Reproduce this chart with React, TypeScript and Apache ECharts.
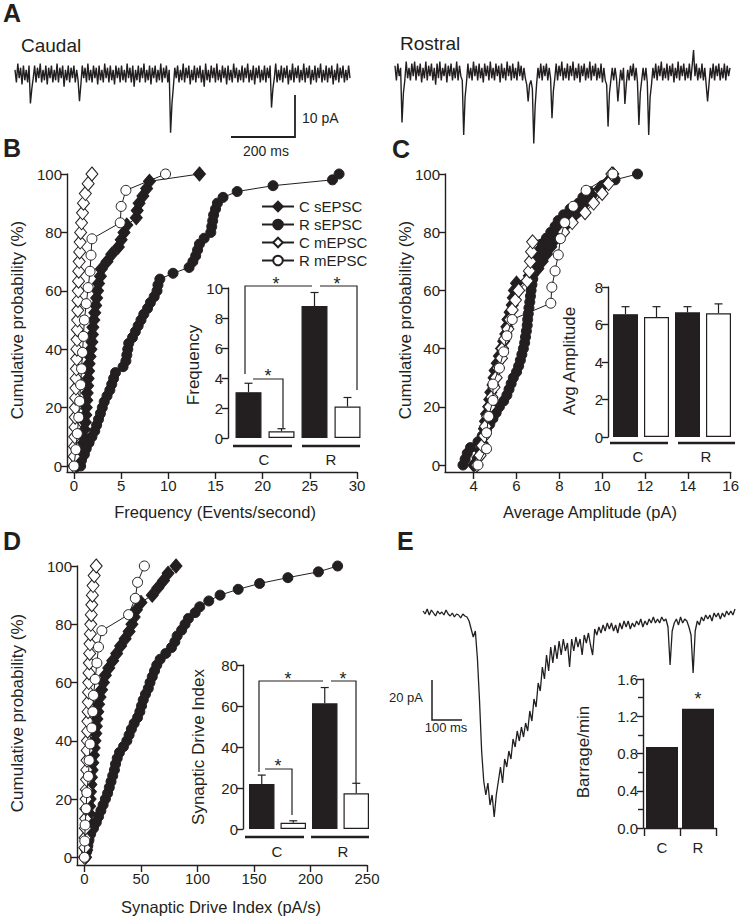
import React, { useEffect, useRef } from 'react';
import * as echarts from 'echarts';

const FONT = '"Liberation Sans", Arial, Helvetica, sans-serif';
const INK = '#231f20';

// ---- cumulative probability levels (%) per group of cells ----
const cumCs = [0, 2.5, 5, 7.5, 10, 12.5, 15, 17.5, 20, 22.5, 25, 27.5, 30, 32.5, 35, 37.5, 40, 42.5, 45, 47.5, 50, 52.5, 55, 57.5, 60, 62.5, 65, 67.5, 70, 72.5, 75, 77.5, 80, 82.5, 85, 87.5, 90, 92.5, 95, 97.5, 100];
const cumRs = [0, 2, 4, 6, 8, 10, 12, 14, 16, 18, 20, 22, 24, 26, 28, 30, 32, 34, 36, 38, 40, 42, 44, 46, 48, 50, 52, 54, 56, 58, 60, 62, 64, 66, 68, 70, 72, 74, 76, 78, 80, 82, 84, 86, 88, 90, 92, 94, 96, 98, 100];
const cumCm = [0, 3.3, 6.7, 10, 13.3, 16.7, 20, 23.3, 26.7, 30, 33.3, 36.7, 40, 43.3, 46.7, 50, 53.3, 56.7, 60, 63.3, 66.7, 70, 73.3, 76.7, 80, 83.3, 86.7, 90, 93.3, 96.7, 100];
const cumRm = [0, 5.6, 11.1, 16.7, 22.2, 27.8, 33.3, 38.9, 44.4, 50, 55.6, 61.1, 66.7, 72.2, 77.8, 83.3, 88.9, 94.4, 100];

// ---- B: frequency (events/s) ----
const freqCs = [0.3, 0.6, 0.8, 0.9, 1.0, 1.1, 1.2, 1.25, 1.3, 1.35, 1.4, 1.45, 1.5, 1.55, 1.6, 1.7, 1.8, 1.9, 1.95, 2.0, 2.1, 2.2, 2.3, 2.4, 2.5, 2.6, 2.8, 2.9, 3.5, 4.0, 4.7, 5.0, 5.3, 5.6, 6.6, 6.7, 6.9, 7.3, 7.7, 8.0, 13.3];
const freqRs = [0.7, 0.8, 1.1, 1.3, 1.6, 1.9, 2.2, 2.4, 2.6, 2.8, 3.0, 3.2, 3.5, 3.8, 4.0, 4.2, 4.4, 5.2, 5.5, 5.6, 5.7, 5.8, 6.2, 6.5, 6.8, 7.1, 7.4, 7.8, 8.1, 8.5, 8.8, 8.9, 9.1, 10.5, 12.2, 12.6, 12.9, 13.1, 13.3, 13.8, 14.5, 14.6, 14.7, 14.8, 15.0, 15.2, 15.8, 17.3, 21.1, 27.4, 28.1];
const freqCm = [0, 0.02, 0.05, 0.08, 0.1, 0.12, 0.15, 0.17, 0.2, 0.22, 0.25, 0.28, 0.3, 0.32, 0.35, 0.38, 0.4, 0.42, 0.45, 0.48, 0.5, 0.55, 0.6, 0.65, 0.7, 0.8, 0.9, 1.0, 1.2, 1.5, 1.9];
const freqRm = [0, 0.2, 0.35, 0.5, 0.6, 0.7, 0.8, 0.9, 1.0, 1.1, 1.3, 1.5, 1.7, 1.8, 1.9, 4.9, 5.0, 5.5, 9.7];

// ---- C: average amplitude (pA) ----
const ampCs = [4.0, 4.2, 4.3, 4.4, 4.45, 4.5, 4.55, 4.6, 4.7, 4.75, 4.8, 4.9, 4.95, 5.0, 5.1, 5.2, 5.3, 5.4, 5.5, 5.55, 5.6, 5.7, 5.8, 5.85, 5.9, 6.0, 6.6, 7.0, 7.2, 7.4, 7.6, 7.8, 8.0, 8.3, 8.6, 8.9, 9.2, 9.5, 9.9, 10.3, 10.5];
const ampRs = [3.5, 3.6, 3.7, 3.85, 4.2, 4.4, 4.6, 4.75, 4.9, 5.05, 5.2, 5.4, 5.55, 5.65, 5.75, 5.85, 6.0, 6.1, 6.18, 6.25, 6.32, 6.38, 6.42, 6.46, 6.5, 6.52, 6.55, 6.58, 6.62, 6.65, 6.68, 6.72, 6.76, 6.8, 6.85, 6.9, 7.0, 7.1, 7.2, 7.4, 7.6, 7.8, 7.95, 8.2, 8.5, 8.9, 9.1, 9.4, 10.0, 10.6, 11.65];
const ampCm = [4.15, 4.3, 4.4, 4.5, 4.55, 4.65, 4.75, 4.85, 4.95, 5.05, 5.15, 5.3, 5.35, 5.45, 5.6, 5.7, 5.8, 5.95, 6.1, 6.5, 6.6, 6.65, 6.7, 6.75, 8.2, 8.6, 9.2, 9.6, 10.0, 10.3, 10.45];
const ampRm = [4.2, 4.6, 4.6, 4.7, 4.9, 4.9, 5.2, 5.4, 5.55, 5.8, 7.6, 7.65, 7.8, 7.95, 8.05, 8.25, 8.65, 9.25, 10.5];

// ---- D: synaptic drive index (pA/s) ----
const sdiCs = [1, 2, 2.5, 3, 3.5, 4, 4.3, 4.6, 5, 5.3, 5.7, 6.2, 6.8, 7.4, 8, 8.6, 9.3, 10, 10.5, 11, 11.8, 12.5, 13.8, 15.2, 16.8, 18.5, 21.5, 25, 28.5, 32, 36, 39.5, 42, 44, 46, 50, 60, 65, 70, 74, 81];
const sdiRs = [0.8, 2, 3, 4, 5.5, 8, 10.5, 12.5, 14.5, 16.5, 18.5, 20.5, 22, 23.5, 25, 26.5, 27.5, 29, 31, 34.5, 37.5, 39.5, 41.5, 44, 47, 49, 50.5, 52, 54, 56.5, 58, 60, 62, 64, 67, 72, 77, 80, 82, 86, 89, 92, 98, 102, 110, 120, 136, 155, 180, 207, 224];
const sdiCm = [0, 0.3, 0.5, 0.8, 1, 1.2, 1.4, 1.6, 1.8, 2, 2.2, 2.4, 2.6, 2.8, 3, 3.2, 3.4, 3.6, 3.8, 4, 4.3, 4.6, 4.9, 5.2, 5.6, 6, 6.5, 7, 7.6, 8.6, 10.4];
const sdiRm = [0, 0.3, 0.6, 1.5, 2.1, 3.5, 4.2, 5, 6.5, 7.4, 8, 9.5, 11, 12.4, 15.4, 39, 45, 47, 53];

// ---- inset bar charts ----
const insetCats = ['C sEPSC', 'C mEPSC', 'R sEPSC', 'R mEPSC'];
const freqMean = [3.05, 0.45, 8.8, 2.1];
const freqErr = [3.65, 0.62, 9.7, 2.7];
const ampMean = [6.55, 6.4, 6.65, 6.6];
const ampErr = [6.95, 6.95, 6.95, 7.1];
const sdiMean = [22, 3, 61.3, 17.4];
const sdiErr = [26.3, 4, 69, 22.3];
const barrageCats = ['C', 'R'];
const barrageVals = [0.87, 1.28];

// ---- tick values ----
const freqTicks = [0, 5, 10, 15, 20, 25, 30];
const ampTicks = [4, 6, 8, 10, 12, 14, 16];
const sdiTicks = [0, 50, 100, 150, 200, 250];
const cumTicks = [0, 20, 40, 60, 80, 100];
const freqInsetTicks = [0, 2, 4, 6, 8, 10];
const ampInsetTicks = [0, 2, 4, 6, 8];
const sdiInsetTicks = [0, 20, 40, 60, 80];

// ---- current traces (pA, sampled evenly in time) ----
const caudalTrace = [
  1, -2, 2.5, -1, 1.5, -2.5, 2, -1.5, 1, -2, 2, -7, -3.5, -1, 2, -2, 1.5, -1, 2.5, -2,
  1, -1.5, 2, -2.5, 1.5, -1, 2, -2, 1, -1.5, 2.5, -2, 1.5, -1, 2, -3, 1, -1.5, 2, -2,
  1.5, -1, 2, -2, 1, -1.5, -6.5, -2.5, 2, -1, 1.5, -2, 2.5, -1.5, 1, -2, 2, -1, 1.5, -2.5,
  2, -1.5, 1, -2, 2.5, -1, 1.5, -2, 2, -1.5, 1, -2.5, 2, -1, 1.5, -2, 2, -1.5, 1, -2,
  2.5, -1, 1.5, -2, 2, -3, 1, -1.5, 2, -2, 1.5, -1, 2.5, -2, 1, -1.5, 2, -2.5, 1.5, -1,
  2, -2, 1, -1.5, 2.5, -2, 1.5, -1, 2, -2, 1, -14, -7, -3, 1.5, -1, 2, -2, 1, -1.5,
  2.5, -2, 1.5, -1, 2, -2.5, 1, -1.5, 2, -2, 1.5, -1, 2, -2, 1, -3, 2.5, -1.5, 1, -2,
  2, -1, 1.5, -2, 2.5, -1.5, 1, -2, 2, -1, 1.5, -2.5, 2, -1.5, 1, -2, 2.5, -1, 1.5, -2,
  1, -1.5, 2, -2, 1.5, -1, 2.5, -2, 1, -1.5, 2, -2.5, 1.5, -1, 2, -2, 1, -1.5, 2, -2,
  1.5, -1, 2, -8, -3.5, -1, 2.5, -2, 1, -1.5, 2, -2, 1.5, -1, 2, -2.5, 1, -1.5, 2.5, -2,
  1.5, -1, 2, -2, 1, -1.5, 2.5, -2, 1.5, -1, 2, -2.5, 1, -1.5, 2, -2, 1.5, -1, 2.5, -2,
  1, -1.5, 2, -2, 1.5, -1, 2, -2.5, 1, -1.5, 2.5, -2, 1.5, -1, 2, -2, 1, -1.5, 2, -1,
];
const rostralTrace = [
  1.5, -2, 2, -1, 1, -12, -5, -2, 2.5, -1.5, 1, -2, 2, -1, 2.5, -2, 1.5, -1, 2, -2.5,
  1, -1.5, 2.5, -2, 1.5, -1, 2, -2, 1, -3, 2, -1.5, 2.5, -2, 1, -1, 2, -2.5, 1.5, -1,
  2, -2, 1, -1.5, 2.5, -2, 1.5, -1, -2, -15, -6, -2.5, 2, -1.5, 1, -2, 2.5, -1, 1.5, -2,
  2, -1.5, 1, -2.5, 2, -1, 1.5, -2, 2.5, -1.5, 1, -2, 2, -1, 1.5, -2.5, 2, -1.5, 1, -2,
  2.5, -1, 1.5, -2, 2, -1.5, 1, -2, 2.5, -1, 1.5, -2, 1, -1.5, -3, -7, -3, -2, -4, -17,
  -8, -3, 1, -1.5, 2, -2, 1.5, -1, 2, -2, 1, -1.5, -11, -4.5, -1.5, 2, -2, 1.5, -1, 2.5,
  -2, 1, -1.5, 2, -2, 1.5, -1, 2.5, -2, 1, -1.5, 2, -2.5, 1.5, -1, 2, -2, 1, -1.5, 2.5,
  -2, 1.5, -1, 2, -2, 1, -1.5, 2, -2.5, 1, -2, -3, -13, -5, -2, 1, -2, 1, -1.5, -7,
  -3, 0.5, -2, 1, -7.6, -3, 0.5, -2, 1.5, -1, 2, -2, 1, -2.5, -12.6, -5, -2, 1, -2, 1,
  -2.5, -15, -6, -3, 1, -1.5, 2, -2, 1.5, -1, 2.5, -2, 1, -1.5, 2, -2, 1.5, -1, 2, -2.5,
  1, -1.5, 2.5, -2, 1.5, -1, 2, -2, 1, -1.5, 2, -2, 1.5, 5.2, -1, 2, -2, 1, -1.5, 2,
  -2, 1, -3, -7, -3, 1, -1.5, 2, -2, 1.5, -1, 2, -2, 1, -1.5, 2, -2, 1.5, -1, 1,
];
const barrageTrace = [
  0, -1.5, 1, -2, 0.5, -1, -2.5, 0, -1.5, -0.5, -2, 0.5, -1.5, -2.5, -1, -3, -1.5, -2, -3.5, -1.5, -2.5, -3,
  -5, -9, -13, -10, -24, -45, -70, -85, -92, -86, -97, -92, -103, -92, -85, -78, -86, -74, -78, -70, -74, -64, -68, -60, -65, -58, -63, -56,
  -60, -50, -55, -44, -48, -36, -40, -28, -34, -22, -30, -18, -26, -17, -24, -15, -22, -14, -20, -16, -28, -14, -20, -13, -18, -14, -22, -12, -16, -11,
  -17, -22, -9, -12, -8, -11, -7, -10, -6, -9, -6, -10, -7, -11, -6, -9, -5, -8, -5, -9, -6, -8, -5, -7, -4, -8, -5, -7, -4, -6,
  -3, -6, -4, -6, -3, -5, -4, -8, -27, -10, -6, -4, -7, -3, -6, -4, -5, -8, -12, -31, -10, -5, -7, -3, -5, -2, -4, -2, -5, -1, -3, -1, -4, -1, -3, 0, -2, 0, -2, 1,
];

const NAMES = ['C sEPSC', 'R sEPSC', 'C mEPSC', 'R mEPSC'];
const STY: Record<string, { symbol: string; size: number | number[]; fill: string; z: number }> = {
  'C sEPSC': { symbol: 'diamond', size: [12, 14], fill: INK, z: 3 },
  'R sEPSC': { symbol: 'circle', size: 10, fill: INK, z: 4 },
  'C mEPSC': { symbol: 'diamond', size: [12, 14], fill: '#ffffff', z: 5 },
  'R mEPSC': { symbol: 'circle', size: 10, fill: '#ffffff', z: 6 },
};

const lineSt = { color: INK, width: 1.4 };
const zip = (xs: number[], ys: number[]) => xs.map((x, i) => [x, ys[i]]);

function valAxis(gi: number, min: number, max: number, ticks: number[], extra: any = {}) {
  return {
    type: 'value', gridIndex: gi, min, max,
    axisLine: { show: true, onZero: false, lineStyle: lineSt },
    axisTick: { show: true, length: 6, lineStyle: lineSt, customValues: ticks },
    axisLabel: { show: true, customValues: ticks, color: INK, fontSize: 15, fontFamily: FONT, margin: 5 },
    splitLine: { show: false },
    ...extra,
  };
}
function mainX(gi: number, min: number, max: number, ticks: number[]) {
  return valAxis(gi, min, max, ticks, {
    axisLabel: { customValues: ticks, color: INK, fontSize: 15, fontFamily: FONT, margin: 6 },
    axisTick: { show: true, length: 7, lineStyle: lineSt, customValues: ticks },
  });
}
function hiddenVal(gi: number, min: number, max: number) {
  return { type: 'value', gridIndex: gi, min, max, show: false, splitLine: { show: false } };
}
function hiddenCat(gi: number, data: string[]) {
  return { type: 'category', gridIndex: gi, data, show: false };
}

function cumSeries(name: string, xs: number[], ys: number[], gi: number) {
  const s = STY[name];
  return {
    type: 'line', name, xAxisIndex: gi, yAxisIndex: gi, data: zip(xs, ys),
    symbol: s.symbol, symbolSize: s.size, showAllSymbol: true, clip: false,
    lineStyle: { color: INK, width: 1 },
    itemStyle: { color: s.fill, borderColor: INK, borderWidth: 1 },
    z: s.z,
  };
}
function barSeries(gi: number, vals: number[], width: number, fills?: string[]) {
  return {
    type: 'bar', xAxisIndex: gi, yAxisIndex: gi, barWidth: width,
    data: vals.map((v, i) => ({ value: v, itemStyle: { color: fills ? fills[i] : INK } })),
    itemStyle: { borderColor: INK, borderWidth: 1.2 }, z: 3,
  };
}
function errSeries(gi: number, means: number[], errs: number[]) {
  return {
    type: 'custom', xAxisIndex: gi, yAxisIndex: gi, z: 2,
    data: means.map((m, i) => [i, m, errs[i]]),
    renderItem: (params: any, api: any) => {
      const p0 = api.coord([api.value(0), api.value(1)]);
      const p1 = api.coord([api.value(0), api.value(2)]);
      return {
        type: 'group',
        children: [
          { type: 'line', shape: { x1: p0[0], y1: p0[1], x2: p1[0], y2: p1[1] }, style: { stroke: INK, lineWidth: 1.2 } },
          { type: 'line', shape: { x1: p1[0] - 4, y1: p1[1], x2: p1[0] + 4, y2: p1[1] }, style: { stroke: INK, lineWidth: 1.2 } },
        ],
      };
    },
  };
}
function traceSeries(gi: number, vals: number[], w = 1) {
  return {
    type: 'line', xAxisIndex: gi, yAxisIndex: gi, data: vals.map((v, i) => [i, v]),
    symbol: 'none', lineStyle: { color: INK, width: w }, silent: true, z: 2,
  };
}

const BW = ['#231f20', '#ffffff', '#231f20', '#ffffff'];

function txt(text: string, x: number, y: number, size: number, opts: any = {}) {
  return {
    type: 'text', x, y, rotation: opts.rot || 0, silent: true,
    style: {
      text, fill: INK, fontSize: size, fontFamily: opts.family || FONT,
      fontWeight: opts.bold ? 'bold' : 'normal',
      align: opts.align || 'center', verticalAlign: opts.valign || 'middle',
    },
  };
}
function ln(pts: number[][], w = 1.2) {
  return { type: 'polyline', silent: true, shape: { points: pts }, style: { stroke: INK, lineWidth: w, fill: null } };
}

export default function App() {
  const ref = useRef<HTMLDivElement>(null);
  useEffect(() => {
    document.body.style.margin = '0';
    const chart = echarts.init(ref.current!, null, { renderer: 'svg' });
    const R90 = Math.PI / 2;
    const option: any = {
      animation: false,
      backgroundColor: '#ffffff',
      textStyle: { fontFamily: FONT, color: INK },
      grid: [
        { left: 67, top: 174, width: 290, height: 298 },   // 0 B main
        { left: 232, top: 288, width: 132, height: 150 },  // 1 B inset
        { left: 445, top: 174, width: 289, height: 298 },  // 2 C main
        { left: 610, top: 287, width: 124, height: 150 },  // 3 C inset
        { left: 77, top: 566, width: 290, height: 299 },   // 4 D main
        { left: 246, top: 665, width: 126, height: 164 },  // 5 D inset
        { left: 644, top: 679, width: 72, height: 149 },   // 6 E inset
        { left: 15, top: 57.2, width: 335, height: 84 },   // 7 caudal trace
        { left: 395, top: 46.8, width: 335, height: 100.8 }, // 8 rostral trace
        { left: 423, top: 601, width: 312, height: 230 },  // 9 E trace
      ],
      xAxis: [
        mainX(0, -0.743, 30, freqTicks),
        hiddenCat(1, insetCats),
        mainX(2, 2.66, 16, ampTicks),
        hiddenCat(3, insetCats),
        mainX(4, -6.6, 250, sdiTicks),
        hiddenCat(5, insetCats),
        {
          type: 'category', gridIndex: 6, data: barrageCats, offset: 2,
          axisLine: { show: true, lineStyle: lineSt },
          axisTick: { show: true, length: 8, alignWithLabel: false, lineStyle: lineSt },
          axisLabel: { color: INK, fontSize: 15, fontFamily: FONT, margin: 10 },
        },
        hiddenVal(7, 0, caudalTrace.length - 1),
        hiddenVal(8, 0, rostralTrace.length - 1),
        hiddenVal(9, 0, barrageTrace.length - 1),
      ],
      yAxis: [
        valAxis(0, -2.05, 100, cumTicks),
        valAxis(1, 0, 10, freqInsetTicks, { offset: 4 }),
        valAxis(2, -2.4, 100, cumTicks),
        valAxis(3, 0, 8, ampInsetTicks, { offset: 2 }),
        valAxis(4, -2.64, 100, cumTicks),
        valAxis(5, 0, 80, sdiInsetTicks, { offset: 3 }),
        {
          type: 'value', gridIndex: 6, min: 0, max: 1.6, interval: 0.4, offset: 1,
          axisLine: { show: true, lineStyle: lineSt },
          axisTick: { show: true, length: 6, lineStyle: lineSt },
          minorTick: { show: true, splitNumber: 2, length: 5, lineStyle: lineSt },
          axisLabel: { color: INK, fontSize: 15, fontFamily: FONT, margin: 5, formatter: (v: number) => v.toFixed(1) },
          splitLine: { show: false },
        },
        hiddenVal(7, -16, 4),
        hiddenVal(8, -18, 6),
        hiddenVal(9, -110, 5),
      ],
      legend: {
        data: NAMES, orient: 'vertical', left: 256, top: 194, itemWidth: 32, itemHeight: 12, itemGap: 3,
        textStyle: { fontSize: 15, fontFamily: FONT, color: INK }, selectedMode: false,
      },
      series: [
        cumSeries('C sEPSC', freqCs, cumCs, 0),
        cumSeries('R sEPSC', freqRs, cumRs, 0),
        cumSeries('C mEPSC', freqCm, cumCm, 0),
        cumSeries('R mEPSC', freqRm, cumRm, 0),
        cumSeries('C sEPSC', ampCs, cumCs, 2),
        cumSeries('R sEPSC', ampRs, cumRs, 2),
        cumSeries('C mEPSC', ampCm, cumCm, 2),
        cumSeries('R mEPSC', ampRm, cumRm, 2),
        cumSeries('C sEPSC', sdiCs, cumCs, 4),
        cumSeries('R sEPSC', sdiRs, cumRs, 4),
        cumSeries('C mEPSC', sdiCm, cumCm, 4),
        cumSeries('R mEPSC', sdiRm, cumRm, 4),
        errSeries(1, freqMean, freqErr),
        barSeries(1, freqMean, 26, BW),
        errSeries(3, ampMean, ampErr),
        barSeries(3, ampMean, 25, BW),
        errSeries(5, sdiMean, sdiErr),
        barSeries(5, sdiMean, 25.5, BW),
        barSeries(6, barrageVals, 32),
        traceSeries(7, caudalTrace, 1.4),
        traceSeries(8, rostralTrace, 1.4),
        traceSeries(9, barrageTrace, 1.3),
      ],
      graphic: [
        // panel letters
        txt('A', 3, 13, 25, { bold: true, align: 'left' }),
        txt('B', 3, 148, 25, { bold: true, align: 'left' }),
        txt('C', 392, 149, 25, { bold: true, align: 'left' }),
        txt('D', 3, 541, 25, { bold: true, align: 'left' }),
        txt('E', 397, 541, 25, { bold: true, align: 'left' }),
        // panel A
        txt('Caudal', 21, 45, 19, { align: 'left' }),
        txt('Rostral', 400, 43, 19, { align: 'left' }),
        ln([[295, 95], [295, 137], [231, 137]], 1.8),
        txt('10 pA', 302, 118, 14, { align: 'left' }),
        txt('200 ms', 266, 151, 14),
        // panel E scale bar
        ln([[432, 680], [432, 720], [462, 720]], 1.5),
        txt('20 pA', 423, 697, 13, { align: 'right' }),
        txt('100 ms', 446, 727, 13),
        // axis titles
        txt('Cumulative probability (%)', 17, 320, 17, { rot: R90 }),
        txt('Frequency (Events/second)', 215, 512, 16.5),
        txt('Cumulative probability (%)', 405, 320, 17, { rot: R90 }),
        txt('Average Amplitude (pA)', 590, 512, 16.5),
        txt('Cumulative probability (%)', 17, 713, 17, { rot: R90 }),
        txt('Synaptic Drive Index (pA/s)', 221, 907, 16.5),
        txt('Frequency', 193, 365, 17, { rot: R90 }),
        txt('Avg Amplitude', 569, 361, 17, { rot: R90 }),
        txt('Synaptic Drive Index', 198, 747, 17, { rot: R90 }),
        txt('Barrage/min', 583, 752, 17, { rot: R90 }),
        // inset group underlines + labels
        ln([[233, 446], [292, 446]], 2.5), ln([[302, 446], [360, 446]], 2.5),
        txt('C', 264, 459, 15), txt('R', 331, 459, 15),
        ln([[610, 443], [668, 443]], 2.5), ln([[678, 443], [735, 443]], 2.5),
        txt('C', 638, 456, 15), txt('R', 706, 456, 15),
        ln([[245, 837], [304, 837]], 2.5), ln([[311, 837], [369, 837]], 2.5),
        txt('C', 277, 851, 15), txt('R', 343, 851, 15),
        // significance brackets (B inset)
        ln([[245, 374], [245, 286], [312, 286]]),
        ln([[320, 286], [357, 286], [357, 390]]),
        ln([[253, 379], [283, 379], [283, 428]]),
        txt('*', 276, 284, 18), txt('*', 337, 284, 18), txt('*', 268, 376, 18),
        // significance brackets (D inset)
        ln([[259, 772], [259, 681], [323, 681]]),
        ln([[331, 681], [356, 681], [356, 783]]),
        ln([[265, 769], [292, 769], [292, 815]]),
        txt('*', 288, 679, 18), txt('*', 343, 679, 18), txt('*', 278, 766, 18),
        // E inset star
        txt('*', 698, 699, 18),
      ],
    };
    chart.setOption(option);
    return () => chart.dispose();
  }, []);
  return <div ref={ref} style={{ width: 742, height: 920 }} />;
}
